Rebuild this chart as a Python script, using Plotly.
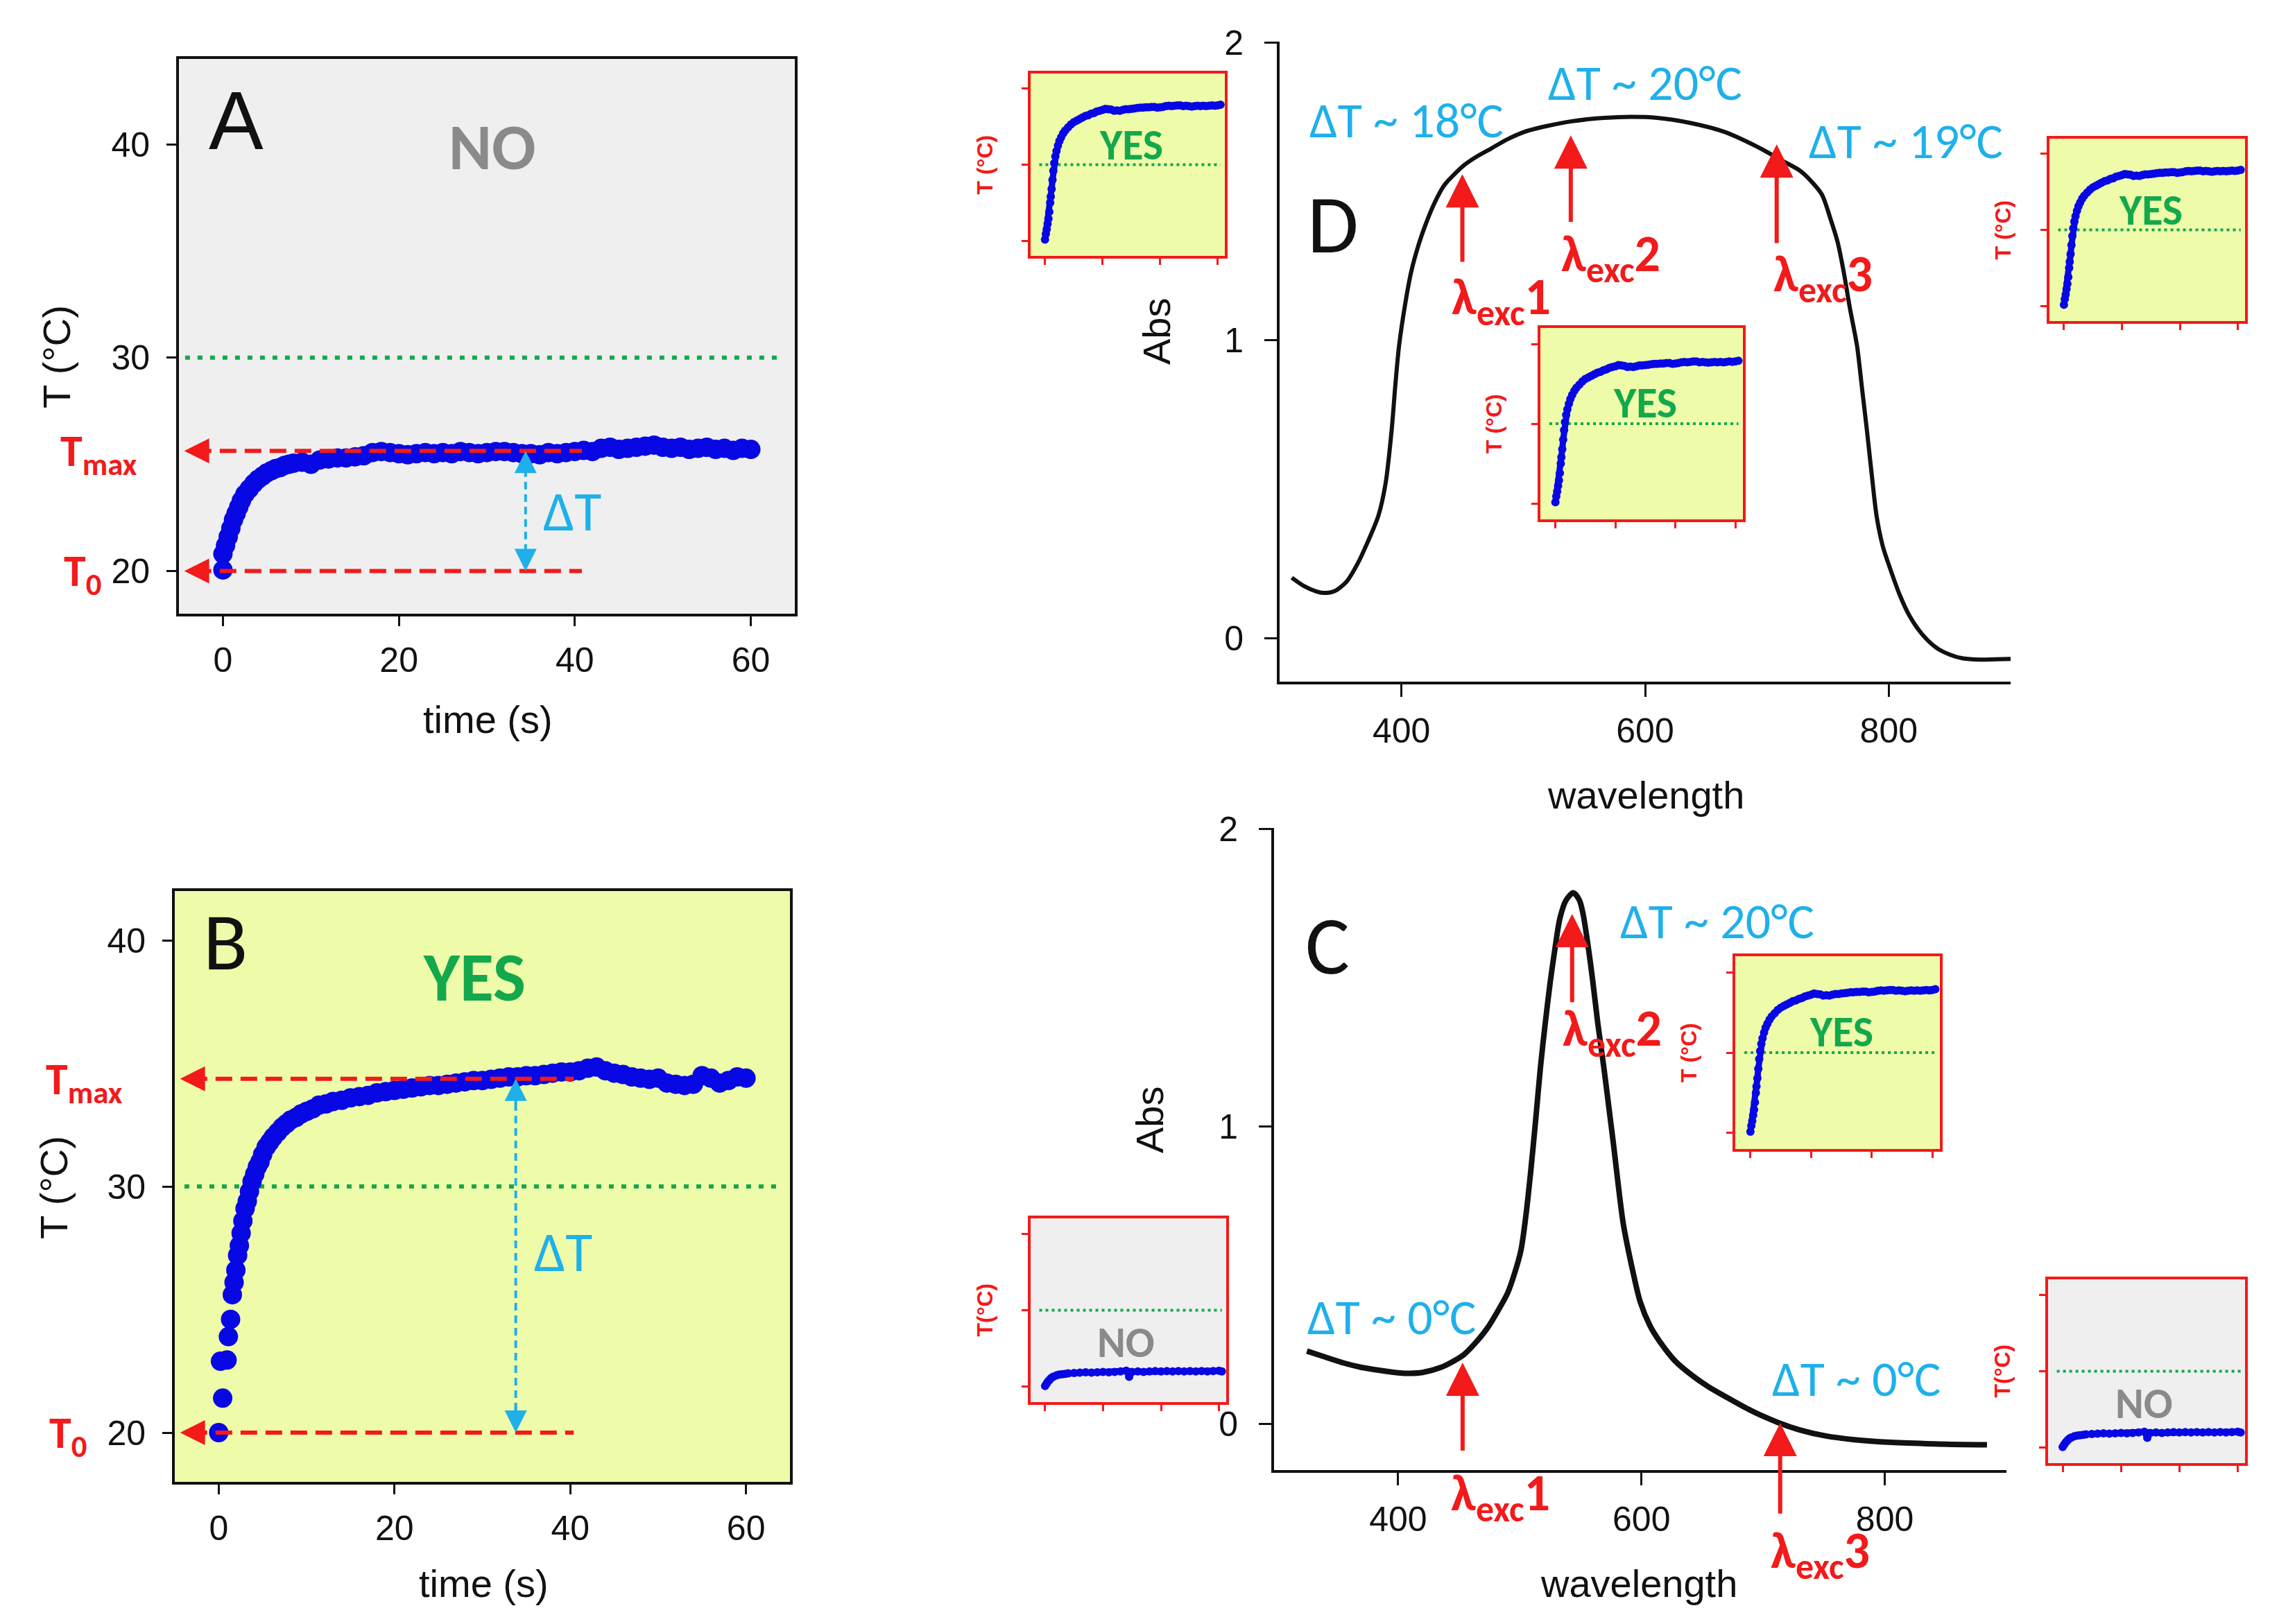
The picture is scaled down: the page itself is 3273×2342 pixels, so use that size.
import plotly.graph_objects as go

# Page size in pixels
W = 3273
H = 2342

#######################################################################################################################
# Data
#######################################################################################################################
# Panel A: heating run that stays under the threshold
time_a = [0.0, 0.0, 0.3, 0.6, 0.9, 1.2, 1.5, 1.8, 2.1, 2.5,
          3.0, 3.5, 4.0, 4.5, 5.0, 5.5, 6.0, 6.5, 7.0, 7.5,
          8, 9, 10, 11, 12, 13, 14, 15, 16, 17,
          18, 19, 20, 21, 22, 23, 24, 25, 26, 27,
          28, 29, 30, 31, 32, 33, 34, 35, 36, 37,
          38, 39, 40, 41, 42, 43, 44, 45, 46, 47,
          48, 49, 50, 51, 52, 53, 54, 55, 56, 57,
          58, 59, 60]
temp_a = [20.05, 20.8, 21.2, 21.6, 22.0, 22.4, 22.7, 23.0, 23.3, 23.6,
          23.85, 24.1, 24.3, 24.45, 24.6, 24.7, 24.8, 24.85, 24.95, 25.0,
          25.05, 25.1, 25.0, 25.2, 25.25, 25.3, 25.3, 25.35, 25.4, 25.55,
          25.6, 25.55, 25.5, 25.45, 25.5, 25.55, 25.5, 25.55, 25.5, 25.6,
          25.55, 25.5, 25.55, 25.6, 25.6, 25.55, 25.5, 25.5, 25.45, 25.55,
          25.5, 25.55, 25.6, 25.65, 25.6, 25.75, 25.8, 25.7, 25.75, 25.8,
          25.85, 25.9, 25.8, 25.75, 25.8, 25.7, 25.75, 25.8, 25.7, 25.75,
          25.65, 25.75, 25.7]

# Panel B: heating run that crosses the threshold
time_b = [0.0, 0.2, 0.45, 0.95, 1.1, 1.35, 1.55, 1.75, 1.95, 2.15,
          2.35, 2.55, 2.75, 3.0, 3.25, 3.5, 3.8, 4.1, 4.4, 4.7,
          5.0, 5.4, 5.8, 6.2, 6.7, 7.2, 7.7, 8.2, 8.8, 9.4,
          10.0, 10.7, 11.4, 12.2, 13.0, 14.0, 15.0, 16.0, 17.0, 18.0,
          19, 20, 21, 22, 23, 24, 25, 26, 27, 28,
          29, 30, 31, 32, 33, 34, 35, 36, 37, 38,
          39, 40, 41, 42, 43, 44, 45, 46, 47, 48,
          49, 50, 51, 52, 53, 54, 55, 56, 57, 58,
          59, 60]
temp_b = [20.0, 22.9, 21.4, 22.95, 23.9, 24.6, 25.6, 26.1, 26.6, 27.2,
          27.6, 28.1, 28.6, 29.1, 29.4, 29.8, 30.2, 30.5, 30.8, 31.0,
          31.3, 31.6, 31.8, 32.0, 32.2, 32.4, 32.55, 32.7, 32.8, 32.95,
          33.05, 33.15, 33.3, 33.35, 33.45, 33.5, 33.6, 33.65, 33.7, 33.8,
          33.85, 33.9, 33.95, 34.0, 34.05, 34.1, 34.1, 34.15, 34.2, 34.25,
          34.3, 34.3, 34.35, 34.4, 34.45, 34.45, 34.5, 34.5, 34.55, 34.6,
          34.65, 34.65, 34.7, 34.8, 34.85, 34.7, 34.6, 34.55, 34.45, 34.4,
          34.35, 34.4, 34.2, 34.15, 34.1, 34.15, 34.5, 34.4, 34.2, 34.3,
          34.45, 34.4]

# Small inset curves ("YES" and "NO")
time_yes = [0.0, 0.3, 0.6, 0.9, 1.2, 1.5, 1.8, 2.0, 2.3, 2.6,
            2.9, 3.2, 3.6, 4.0, 4.5, 5.0, 5.6, 6.3, 7.0, 8.0,
            9, 10, 11, 12, 13, 14, 15, 16, 17, 18,
            19, 20, 21, 22, 23, 24, 25, 26, 27, 28,
            29, 30, 31, 32, 33, 34, 35, 36, 37, 38,
            39, 40, 41, 42, 43, 44, 45, 46, 47, 48,
            49, 50, 51, 52, 53, 54, 55, 56, 57, 58,
            59, 60, 61]
temp_yes = [20.15, 20.9, 21.5, 22.2, 22.9, 23.8, 25.0, 25.8, 26.8, 28.0,
            29.2, 30.2, 31.1, 31.8, 32.5, 33.1, 33.6, 34.1, 34.5, 34.9,
            35.3, 35.6, 35.8, 36.0, 36.2, 36.4, 36.5, 36.7, 36.8, 37.0,
            37.1, 37.2, 37.35, 37.3, 37.25, 37.1, 37.15, 37.1, 37.2, 37.3,
            37.3, 37.35, 37.4, 37.45, 37.5, 37.5, 37.55, 37.55, 37.6, 37.6,
            37.5, 37.55, 37.6, 37.7, 37.75, 37.7, 37.75, 37.8, 37.8, 37.7,
            37.75, 37.7, 37.65, 37.7, 37.75, 37.7, 37.75, 37.7, 37.75, 37.8,
            37.75, 37.8, 37.9]
time_no = [0.0, 0.5, 1.0, 1.5, 2.0, 2.5, 3.0, 4.0, 5.0, 6.0,
           7, 8, 10, 12, 14, 16, 18, 20, 22, 24,
           26, 28, 28.6, 29, 29.5, 30, 32, 34, 36, 38,
           40, 42, 44, 46, 48, 50, 52, 54, 56, 58,
           60, 61]
temp_no = [20.1, 20.4, 20.7, 20.9, 21.1, 21.25, 21.35, 21.5, 21.6, 21.65,
           21.7, 21.75, 21.8, 21.85, 21.9, 21.85, 21.9, 21.95, 21.9, 21.95,
           22.0, 22.1, 21.9, 21.3, 21.9, 21.95, 22.0, 21.95, 22.0, 22.05,
           22.0, 22.05, 22.0, 22.05, 22.0, 22.05, 22.0, 22.05, 22.0, 22.05,
           22.1, 22.0]

# Panel D: broad absorption band
wl_d = [310, 320, 330, 336, 345, 355, 364, 372, 381, 387,
        392, 395, 398, 403, 408, 414, 419, 427, 435, 444,
        452, 463, 474, 487, 501, 520, 539, 560, 583, 610,
        637, 665, 692, 714, 727, 735, 745, 752, 758, 763,
        768, 774, 778, 782, 786, 790, 795, 801, 809, 817,
        827, 839, 850, 861, 875, 888, 900]
abs_d = [0.203, 0.175, 0.157, 0.152, 0.158, 0.19, 0.25, 0.32, 0.41, 0.52,
         0.70, 0.85, 0.98, 1.12, 1.23, 1.32, 1.38, 1.46, 1.52, 1.56,
         1.59, 1.62, 1.645, 1.675, 1.70, 1.72, 1.735, 1.745, 1.75, 1.747,
         1.73, 1.70, 1.65, 1.60, 1.57, 1.54, 1.49, 1.41, 1.33, 1.23,
         1.11, 0.98, 0.84, 0.70, 0.55, 0.41, 0.31, 0.235, 0.145, 0.075,
         0.015, -0.032, -0.055, -0.068, -0.072, -0.071, -0.07]

# Panel C: narrow absorption band
wl_c = [325, 340, 355, 370, 385, 400, 410, 420, 435, 445,
        454, 463, 473, 482, 490, 496, 501, 505, 509, 513,
        517, 521, 525, 529, 533, 538, 544, 549, 552, 556,
        560, 564, 569, 573, 577, 581, 585, 592, 599, 607,
        615, 628, 642, 655, 669, 690, 713, 730, 751, 775,
        805, 840, 884]
abs_c = [0.245, 0.225, 0.205, 0.19, 0.18, 0.172, 0.17, 0.173, 0.19, 0.21,
         0.233, 0.27, 0.32, 0.38, 0.44, 0.51, 0.585, 0.7, 0.85, 1.02,
         1.2, 1.35, 1.485, 1.6, 1.7, 1.76, 1.785, 1.76, 1.714, 1.61,
         1.487, 1.35, 1.2, 1.07, 0.94, 0.8, 0.674, 0.53, 0.41, 0.33,
         0.277, 0.21, 0.162, 0.125, 0.092, 0.045, 0.0035, -0.02, -0.04, -0.053,
         -0.062, -0.067, -0.07]

time_ticks = [0, 20, 40, 60]
temp_ticks = [20, 30, 40]
wl_ticks = [400, 600, 800]
abs_ticks = [0, 1, 2]

T0 = 20
THRESHOLD = 30
TMAX_A = 25.63
TMAX_B = 34.37

#######################################################################################################################
# Styles
#######################################################################################################################
ARIAL = "Arial, Liberation Sans, sans-serif"
CALI = "Carlito, Lato, Open Sans, sans-serif"
INK = "#111111"
BLUE = "#0808e4"
RED = "#f21a1a"
CYAN = "#1fb0ea"
GREEN = "#14a84c"
GRAYTXT = "#8a8a8a"
BG_NO = "#efefef"
BG_YES = "#eefcaa"


def dom(x0, x1, y0, y1):
    # pixel box -> paper domains
    return [x0 / W, x1 / W], [1 - y1 / H, 1 - y0 / H]


def names(n):
    s = "" if n == 1 else str(n)
    return "x" + s, "y" + s, "xaxis" + s, "yaxis" + s


def axis_style(color, width, ticklen, standoff, labels=True, mirror=False):
    return dict(showgrid=False, zeroline=False, automargin=False, ticks="outside",
                ticklen=ticklen, tickwidth=max(width - 1, 2), tickcolor=color,
                showline=True, linecolor=color, linewidth=width, mirror=mirror,
                showticklabels=labels, ticklabelstandoff=standoff,
                tickfont=dict(family=ARIAL, size=50, color=INK))


def add_panel(layout, n, box, xr, yr, xt, yt, mirror, xsoff, ysoff, ticklen):
    xa, ya, xk, yk = names(n)
    xd, yd = dom(*box)
    layout[xk] = dict(domain=xd, range=xr, tickvals=xt, anchor=ya,
                      **axis_style(INK, 4, ticklen, xsoff, mirror=mirror))
    layout[yk] = dict(domain=yd, range=yr, tickvals=yt, anchor=xa,
                      **axis_style(INK, 4, ticklen, ysoff, mirror=mirror))


def text(fig, txt, x, y, xref, yref, size, color=INK, family=CALI, xanchor="center", **kw):
    fig.add_annotation(text=txt, x=x, y=y, xref=xref, yref=yref, showarrow=False,
                       xanchor=xanchor, yanchor="middle",
                       font=dict(family=family, size=size, color=color), **kw)


def arrow(fig, xref, yref, x, y, ax, ay, color, width, size):
    fig.add_annotation(text="", x=x, y=y, ax=ax, ay=ay, xref=xref, yref=yref,
                       axref=xref, ayref=yref, showarrow=True, arrowhead=2,
                       arrowwidth=width, arrowsize=size, arrowcolor=color, standoff=0)


def background(fig, n, color):
    xa, ya, _, _ = names(n)
    fig.add_shape(type="rect", xref=xa + " domain", yref=ya + " domain", x0=0, x1=1, y0=0, y1=1,
                  fillcolor=color, line_width=0, layer="below")


def hline(fig, n, x0, x1, y, color, width, dash, layer="above"):
    xa, ya, _, _ = names(n)
    fig.add_shape(type="line", xref=xa, yref=ya, x0=x0, x1=x1, y0=y, y1=y,
                  line=dict(color=color, width=width, dash=dash), layer=layer)


def vline(fig, n, x, y0, y1, color, width, dash):
    xa, ya, _, _ = names(n)
    fig.add_shape(type="line", xref=xa, yref=ya, x0=x, x1=x, y0=y0, y1=y1,
                  line=dict(color=color, width=width, dash=dash))


#######################################################################################################################
# Build figure
#######################################################################################################################
fig = go.Figure()
layout = dict(width=W, height=H, margin=dict(l=0, r=0, t=0, b=0),
              paper_bgcolor="white", plot_bgcolor="rgba(0,0,0,0)", showlegend=False)

BOX_A = (250, 1138, 77, 877)
BOX_B = (244, 1131, 1277, 2129)
BOX_D = (1837, 2891, 52, 975)
BOX_C = (1829, 2885, 1186, 2112)
RANGE_C = [-0.155, 2.003]

add_panel(layout, 1, BOX_A, [-5, 65], [18, 44], time_ticks, temp_ticks, True, 6, 14, 14)
add_panel(layout, 2, BOX_B, [-5, 65], [18, 42], time_ticks, temp_ticks, True, 6, 14, 14)
add_panel(layout, 3, BOX_D, [300, 900], [-0.146, 2.003], wl_ticks, abs_ticks, False, 6, 20, 18)
add_panel(layout, 4, BOX_C, [298, 900], RANGE_C, wl_ticks, abs_ticks, False, 6, 20, 18)

# insets: pixel box, which curve, y label
insets = [
    ((1478, 1758, 98, 361), "yes", "T (°C)"),
    ((2213, 2505, 465, 741), "yes", "T (°C)"),
    ((2947, 3229, 192, 455), "yes", "T (°C)"),
    ((2494, 2789, 1371, 1649), "yes", "T (°C)"),
    ((1478, 1760, 1749, 2014), "no", "T(°C)"),
    ((2945, 3229, 1837, 2102), "no", "T(°C)"),
]
for i, (box, kind, lab) in enumerate(insets):
    n = 5 + i
    xa, ya, xk, yk = names(n)
    xd, yd = dom(*box)
    layout[xk] = dict(domain=xd, range=[-5, 62.5], tickvals=time_ticks, anchor=ya,
                      **axis_style(RED, 4, 9, 0, labels=False, mirror=True))
    layout[yk] = dict(domain=yd, range=[18, 42], tickvals=temp_ticks, anchor=xa,
                      **axis_style(RED, 4, 9, 0, labels=False, mirror=True))

fig.update_layout(**layout)

# Panel backgrounds
background(fig, 1, BG_NO)
background(fig, 2, BG_YES)
for i, (box, kind, lab) in enumerate(insets):
    background(fig, 5 + i, BG_YES if kind == "yes" else BG_NO)

# threshold lines
hline(fig, 1, -4.3, 63.7, THRESHOLD, GREEN, 6, "7px,11px", layer="below")
hline(fig, 2, -3.9, 63.9, THRESHOLD, GREEN, 6, "7px,11px", layer="below")
for i in range(len(insets)):
    hline(fig, 5 + i, -2, 61, THRESHOLD, GREEN, 4, "4px,5px", layer="below")

# Heating curves
fig.add_trace(go.Scatter(x=time_a, y=temp_a, mode="markers", marker=dict(color=BLUE, size=28),
                         xaxis="x", yaxis="y", hoverinfo="skip"))
fig.add_trace(go.Scatter(x=time_b, y=temp_b, mode="markers", marker=dict(color=BLUE, size=28),
                         xaxis="x2", yaxis="y2", hoverinfo="skip"))
for i, (box, kind, lab) in enumerate(insets):
    xa, ya, _, _ = names(5 + i)
    tx, ty = (time_yes, temp_yes) if kind == "yes" else (time_no, temp_no)
    fig.add_trace(go.Scatter(x=tx, y=ty, mode="lines+markers", line=dict(color=BLUE, width=9),
                             marker=dict(color=BLUE, size=12), xaxis=xa, yaxis=ya, hoverinfo="skip"))

# Spectra
fig.add_trace(go.Scatter(x=wl_d, y=abs_d, mode="lines",
                         line=dict(color=INK, width=6, shape="spline", smoothing=0.8),
                         xaxis="x3", yaxis="y3", hoverinfo="skip"))
fig.add_trace(go.Scatter(x=wl_c, y=abs_c, mode="lines",
                         line=dict(color=INK, width=8, shape="spline", smoothing=0.8),
                         xaxis="x4", yaxis="y4", hoverinfo="skip"))

# Panel A / B markings: Tmax, T0 arrows and delta T
for n, tmax, x_end, x_dt, in [(1, TMAX_A, 40.8, 34.4), (2, TMAX_B, 40.4, 33.8)]:
    xa, ya, _, _ = names(n)
    for lvl in (tmax, T0):
        hline(fig, n, -3.2, x_end, lvl, RED, 6, "24px,12px")
        arrow(fig, xa, ya, -4.4, lvl, -2.4, lvl, RED, 6, 1.2)
    vline(fig, n, x_dt, T0 + 0.9, tmax - 0.9, CYAN, 4, "11px,7px")
    arrow(fig, xa, ya, x_dt, tmax, x_dt, tmax - 1.1, CYAN, 4, 1.6)
    arrow(fig, xa, ya, x_dt, T0, x_dt, T0 + 1.1, CYAN, 4, 1.6)

text(fig, "A", 1.5, 41.1, "x", "y", 118, family=ARIAL)
text(fig, "<b>NO</b>", 30.6, 39.9, "x", "y", 94, GRAYTXT)
text(fig, "ΔT", 39.7, 22.8, "x", "y", 80, CYAN)
text(fig, "B", 0.8, 39.94, "x2", "y2", 118)
text(fig, "<b>YES</b>", 29.1, 38.5, "x2", "y2", 100, GREEN)
text(fig, "ΔT", 39.2, 27.35, "x2", "y2", 80, CYAN)

# Tmax / T0 labels beside the temperature axes
text(fig, "<b>T<sub>max</sub></b>", 192 / W, TMAX_A, "paper", "y", 64, RED, xanchor="right", yshift=-4)
text(fig, "<b>T<sub>0</sub></b>", 140 / W, T0, "paper", "y", 64, RED, xanchor="right", yshift=-4)
text(fig, "<b>T<sub>max</sub></b>", 171 / W, TMAX_B, "paper", "y2", 64, RED, xanchor="right", yshift=-4)
text(fig, "<b>T<sub>0</sub></b>", 119 / W, T0, "paper", "y2", 64, RED, xanchor="right", yshift=-4)

# Axis titles
for txt, px, py, ang in [("T (°C)", 73, 507, -90), ("time (s)", 695, 1029, 0),
                         ("T (°C)", 69, 1705, -90), ("time (s)", 689, 2275, 0),
                         ("Abs", 1659, 470, -90), ("wavelength", 2365, 1138, 0),
                         ("Abs", 1649, 1607, -90), ("wavelength", 2355, 2275, 0)]:
    text(fig, txt, px / W, 1 - py / H, "paper", "paper", 56, family=ARIAL, textangle=ang)

# Panel D notes
text(fig, "D", 344, 1.39, "x3", "y3", 120)
text(fig, "ΔT ~ 18°C", 404, 1.74, "x3", "y3", 72, CYAN)
text(fig, "ΔT ~ 20°C", 600, 1.866, "x3", "y3", 72, CYAN)
text(fig, "ΔT ~ 19°C", 814, 1.67, "x3", "y3", 72, CYAN)
for x, y0, y1, lx, ly, k in [(450, 1.26, 1.558, 482, 1.135, 1),
                             (539, 1.394, 1.688, 572, 1.278, 2),
                             (708, 1.323, 1.658, 746, 1.212, 3)]:
    arrow(fig, "x3", "y3", x, y1, x, y0, RED, 6, 1.6)
    text(fig, "<b>λ<sub>exc</sub>%d</b>" % k, lx, ly, "x3", "y3", 74, RED)

# Panel C notes
text(fig, "C", 342, 1.61, "x4", "y4", 120)
text(fig, "ΔT ~ 20°C", 662, 1.69, "x4", "y4", 72, CYAN)
text(fig, "ΔT ~ 0°C", 394.6, 0.36, "x4", "y4", 72, CYAN)
text(fig, "ΔT ~ 0°C", 776.6, 0.153, "x4", "y4", 72, CYAN)
arrow(fig, "x4", "y4", 543, 1.714, 543, 1.414, RED, 6, 1.6)
text(fig, "<b>λ<sub>exc</sub>2</b>", 576, 1.317, "x4", "y4", 74, RED)
arrow(fig, "x4", "y4", 453, 0.206, 453, -0.093, RED, 6, 1.6)
arrow(fig, "x4", "y4", 714, 0.0035, 714, -0.305, RED, 6, 1.6)


def c_paper_y(v):
    # labels below the C axis are placed in paper units so they are not hidden
    yd = dom(*BOX_C)[1]
    return yd[0] + (v - RANGE_C[0]) / (RANGE_C[1] - RANGE_C[0]) * (yd[1] - yd[0])


text(fig, "<b>λ<sub>exc</sub>1</b>", 484, c_paper_y(-0.243), "x4", "paper", 74, RED)
text(fig, "<b>λ<sub>exc</sub>3</b>", 746.7, c_paper_y(-0.437), "x4", "paper", 74, RED)

# Inset labels
for i, (box, kind, lab) in enumerate(insets):
    xa, ya, _, _ = names(5 + i)
    if kind == "yes":
        text(fig, "<b>YES</b>", 30, 32.6, xa, ya, 62, GREEN)
    else:
        text(fig, "<b>NO</b>", 28, 25.8, xa, ya, 62, GRAYTXT)
    cx = (box[0] - 67) / W
    cy = 1 - (box[2] + box[3]) / 2 / H
    text(fig, "<b>%s</b>" % lab, cx, cy, "paper", "paper", 32, RED, family=ARIAL, textangle=-90)

fig.write_html("out.html")
